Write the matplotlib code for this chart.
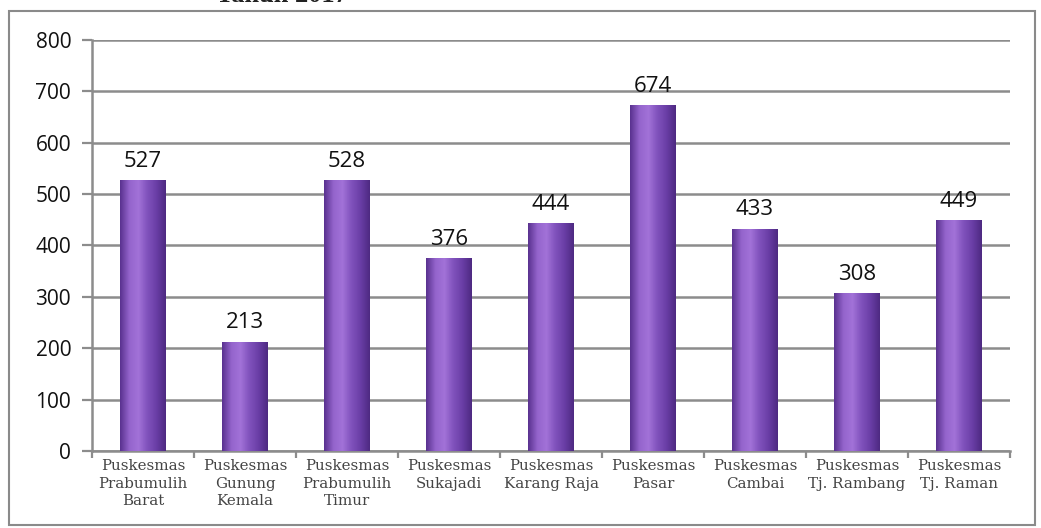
import matplotlib
matplotlib.use("Agg")
import matplotlib.pyplot as plt
import matplotlib.colors as mcolors
from matplotlib.patches import Rectangle
import numpy as np

# data
categories = ["Puskesmas\nPrabumulih\nBarat", "Puskesmas\nGunung\nKemala",
              "Puskesmas\nPrabumulih\nTimur", "Puskesmas\nSukajadi",
              "Puskesmas\nKarang Raja", "Puskesmas\nPasar", "Puskesmas\nCambai",
              "Puskesmas\nTj. Rambang", "Puskesmas\nTj. Raman"]
values = [527, 213, 528, 376, 444, 674, 433, 308, 449]
y_ticks = [0, 100, 200, 300, 400, 500, 600, 700, 800]

fig = plt.figure(figsize=(10.41, 5.28), dpi=100)
ax = fig.add_axes([92/1041, 1 - 451/528, 918/1041, 411/528])

# outer frame of the picture
fig.patches.append(Rectangle((9/1041, 3/528), 1026/1041, 514/528, transform=fig.transFigure,
                             fill=False, edgecolor="#8a8a8a", linewidth=1.5))
fig.text(282/1041, 1 - 7/528, "Tahun 2017", ha="center", va="bottom",
         fontsize=19, fontweight="bold", family="Liberation Serif", color="#222222")

x = np.arange(len(values))
bars = ax.bar(x, values, width=0.45, color="#7c4cb4", zorder=3)

# cylinder-like shading
cmap = mcolors.LinearSegmentedColormap.from_list(
    "cyl", ["#5a3290", "#9464cc", "#a272d8", "#8052bc", "#6a3ea6", "#4e2a82"])
grad = np.linspace(0, 1, 64).reshape(1, -1)
for b in bars:
    im = ax.imshow(grad, cmap=cmap, aspect="auto", zorder=4,
                   extent=(b.get_x(), b.get_x() + b.get_width(), 0, b.get_height()))
    im.set_clip_path(b)

for xi, v in zip(x, values):
    ax.text(xi, v + 16, str(v), ha="center", va="bottom", fontsize=16,
            family="Open Sans", color="#111111", zorder=5)

ax.set_xlim(-0.5, len(values) - 0.5)
ax.set_ylim(0, 800)
ax.set_yticks(y_ticks)
ax.set_yticklabels([str(t) for t in y_ticks], family="Open Sans", fontsize=15, color="#111111")
ax.yaxis.grid(True, color="#8c8c8c", linewidth=1.8, zorder=0)
ax.set_axisbelow(True)

ax.set_xticks(x)
ax.set_xticklabels(categories, family="DejaVu Serif", fontsize=10.8, color="#444444",
                   linespacing=1.32)
ax.tick_params(axis="x", length=0, pad=6)
ax.set_xticks(np.arange(-0.5, len(values), 1), minor=True)
ax.tick_params(axis="x", which="minor", length=5, width=1.6, color="#8c8c8c")
ax.tick_params(axis="y", length=7, width=1.6, color="#8c8c8c", pad=8)

for s in ["top", "right"]:
    ax.spines[s].set_visible(False)
for s in ["left", "bottom"]:
    ax.spines[s].set_color("#8c8c8c")
    ax.spines[s].set_linewidth(1.8)

fig.savefig("out.png", dpi=100)
